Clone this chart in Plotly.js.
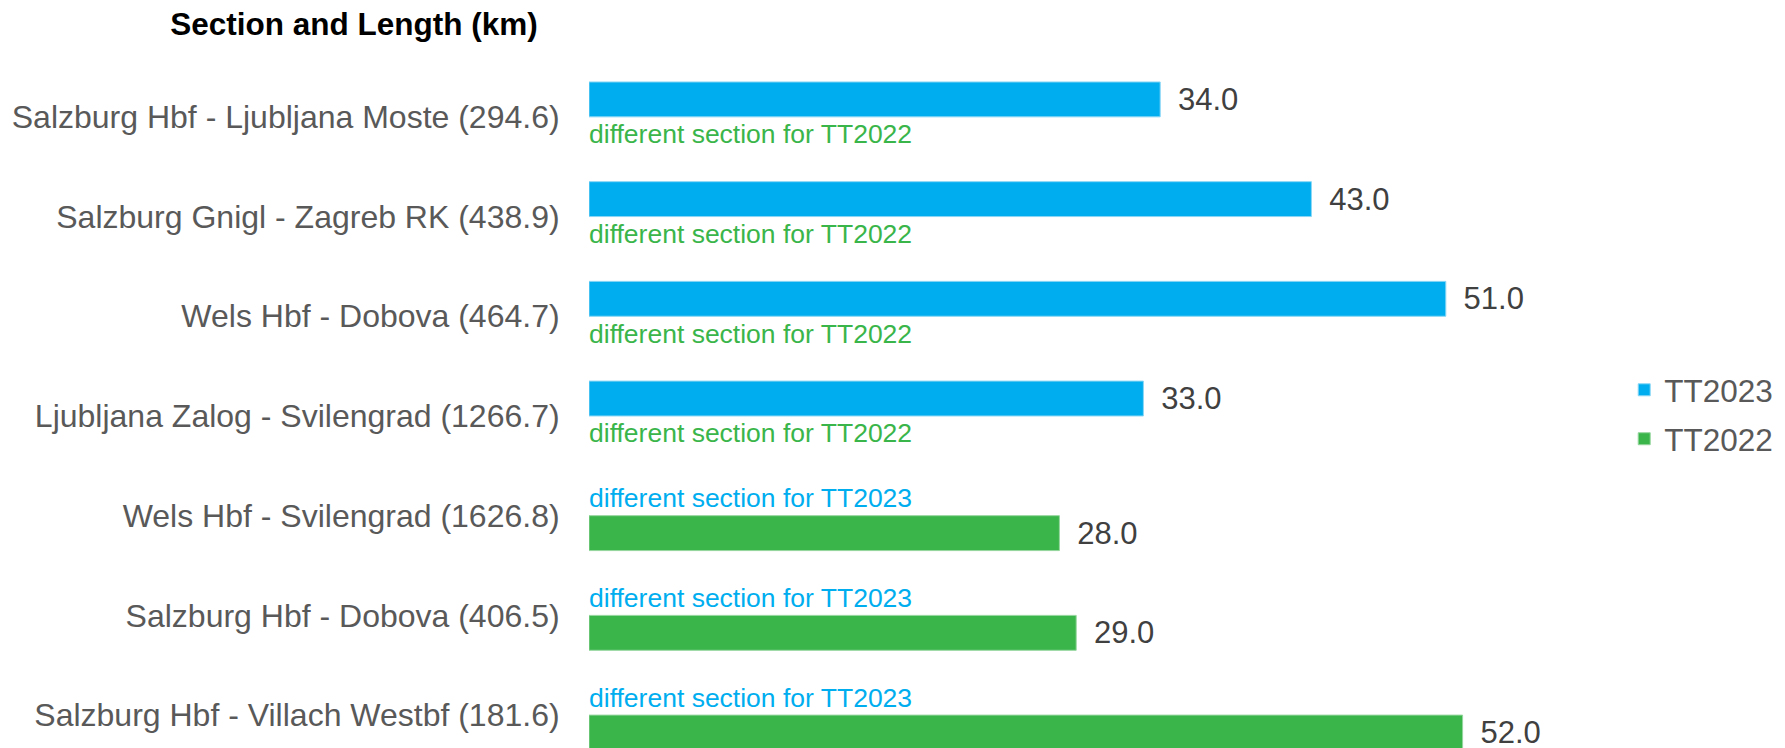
<!DOCTYPE html>
<html>
<head>
<meta charset="utf-8">
<script src="https://cdn.plot.ly/plotly-3.0.1.min.js"></script>
<style>html,body{margin:0;padding:0;background:#fff;}#chart{width:1785px;height:748px;}</style>
</head>
<body>
<div id="chart"></div>
<script>
// ---- data ----
const sections = [
  "Salzburg Hbf - Ljubljana Moste (294.6)",
  "Salzburg Gnigl - Zagreb RK (438.9)",
  "Wels Hbf - Dobova (464.7)",
  "Ljubljana Zalog - Svilengrad (1266.7)",
  "Wels Hbf - Svilengrad (1626.8)",
  "Salzburg Hbf - Dobova (406.5)",
  "Salzburg Hbf - Villach Westbf (181.6)"
];
const tt2023 = [34.0, 43.0, 51.0, 33.0, null, null, null];
const tt2022 = [null, null, null, null, 28.0, 29.0, 52.0];
const noteFor2022 = "different section for TT2022";
const noteFor2023 = "different section for TT2023";
const seriesNames = ["TT2023", "TT2022"];
const titleText = "Section and Length (km)";

// ---- style ----
const FONT = "Liberation Sans, Arial, Helvetica, sans-serif";
const BLUE = "#00AEEF", GREEN = "#3AB54A";
const LABEL = "#595959", VALUE = "#404040";
const BARGAP = 0.3;
const slot = (1 - BARGAP) / 4;

const fmt = v => v == null ? "" : "\u00a0\u2009" + v.toFixed(1);

const traces = [
  {
    type: "bar", orientation: "h", name: seriesNames[0],
    y: sections, x: tt2023,
    marker: {color: BLUE, line: {color: "#8ad6f5", width: 1}},
    text: tt2023.map(fmt), textposition: "outside",
    textfont: {family: FONT, size: 31, color: VALUE},
    constraintext: "none", cliponaxis: false,
    hoverinfo: "x+y", legendgroup: "a"
  },
  {
    type: "bar", orientation: "h", name: seriesNames[1],
    y: sections, x: tt2022,
    marker: {color: GREEN, line: {color: "#95d69e", width: 1}},
    text: tt2022.map(fmt), textposition: "outside",
    textfont: {family: FONT, size: 31, color: VALUE},
    constraintext: "none", cliponaxis: false,
    hoverinfo: "x+y", legendgroup: "b"
  }
];

// notes in the empty slot of each category
const annotations = [];
sections.forEach((s, i) => {
  if (tt2022[i] == null) {
    annotations.push({x: 0, y: i + slot, xref: "x", yref: "y", text: noteFor2022,
      showarrow: false, xanchor: "left", yanchor: "middle", xshift: -2,
      font: {family: FONT, size: 26.5, color: GREEN}});
  }
  if (tt2023[i] == null) {
    annotations.push({x: 0, y: i - slot, xref: "x", yref: "y", text: noteFor2023,
      showarrow: false, xanchor: "left", yanchor: "middle", xshift: -2,
      font: {family: FONT, size: 26.5, color: BLUE}});
  }
});

const layout = {
  width: 1785, height: 748,
  paper_bgcolor: "#fff", plot_bgcolor: "#fff",
  margin: {l: 589, r: 188, t: 67, b: 0, pad: 0},
  barmode: "group", bargap: BARGAP, bargroupgap: 0,
  title: {text: "<b>" + titleText + "</b>", x: 354 / 1785, xanchor: "center", xref: "container",
          y: 1 - 24 / 748, yanchor: "middle", yref: "container",
          font: {family: FONT, size: 31.5, color: "#000"}},
  xaxis: {range: [0, 60], visible: false, showgrid: false, zeroline: false, fixedrange: true},
  yaxis: {type: "category", range: [6.33, -0.5], autorange: false,
          showgrid: false, zeroline: false, showline: false,
          ticks: "outside", ticklen: 22, tickcolor: "rgba(0,0,0,0)",
          tickfont: {family: FONT, size: 32, color: LABEL}, fixedrange: true},
  showlegend: true,
  legend: {x: 1.027, xanchor: "left", y: 0.49, yanchor: "middle",
           traceorder: "grouped", tracegroupgap: 5,
           font: {family: FONT, size: 31.5, color: LABEL}, bgcolor: "rgba(0,0,0,0)"},
  annotations: annotations
};

Plotly.newPlot("chart", traces, layout, {displayModeBar: false, staticPlot: true});
</script>
</body>
</html>
